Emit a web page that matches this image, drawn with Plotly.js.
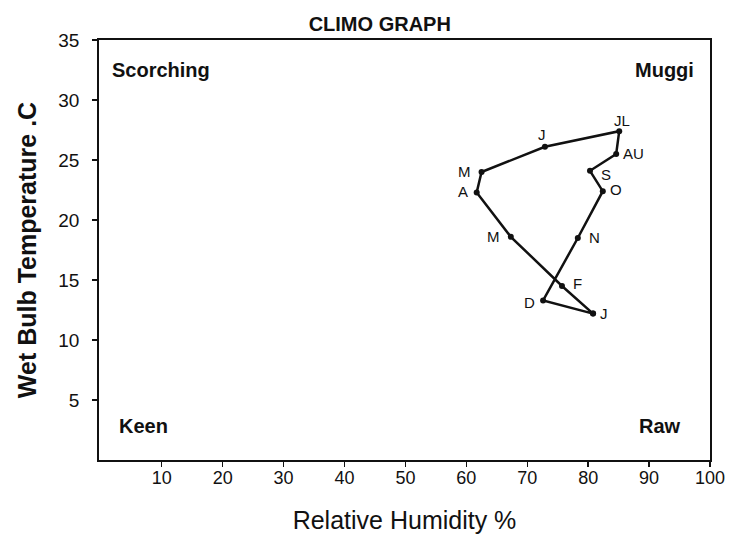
<!DOCTYPE html>
<html>
<head>
<meta charset="utf-8">
<script src="https://cdn.plot.ly/plotly-3.0.1.min.js"></script>
<style>
  html, body { margin: 0; padding: 0; background: #ffffff; }
  #chart { width: 736px; height: 544px; }
</style>
</head>
<body>
<div id="chart"></div>
<script>
// Month labels along the climograph loop (January first)
var months = ['J', 'F', 'M', 'A', 'M', 'J', 'JL', 'AU', 'S', 'O', 'N', 'D'];
// Relative humidity (%) per month
var humidity = [80.8, 75.7, 67.3, 61.7, 62.5, 72.9, 85.1, 84.6, 80.3, 82.4, 78.3, 72.6];
// Wet bulb temperature (deg C) per month
var wetBulb = [12.2, 14.5, 18.6, 22.3, 24.0, 26.1, 27.4, 25.5, 24.1, 22.4, 18.5, 13.3];
// Axis ticks
var xTicks = [10, 20, 30, 40, 50, 60, 70, 80, 90, 100];
var yTicks = [5, 10, 15, 20, 25, 30, 35];
// Corner zone names
var zoneNames = ['Scorching', 'Muggi', 'Keen', 'Raw'];

// Label pixel offsets (styling only)
var labelShift = [[11, 0], [16, 3], [-17, 0], [-14, 1], [-17, 1], [-3, 12],
                  [3, 11], [17, 1], [16, -4], [13, 2], [17, 1], [-14, -2]];

var FONT = 'Liberation Sans, Arial, sans-serif';

var loopX = humidity.concat([humidity[0]]);
var loopY = wetBulb.concat([wetBulb[0]]);

var trace = {
  x: loopX,
  y: loopY,
  type: 'scatter',
  mode: 'lines+markers',
  line: { color: '#111111', width: 2.5 },
  marker: { color: '#111111', size: 6 },
  hoverinfo: 'skip',
  showlegend: false
};

var annotations = months.map(function (m, i) {
  return {
    x: humidity[i], y: wetBulb[i], xref: 'x', yref: 'y',
    text: m, showarrow: false,
    xshift: labelShift[i][0], yshift: labelShift[i][1],
    font: { family: FONT, size: 15, color: '#111111' }
  };
});

var zonePos = [
  { x: 0.018, y: 0.929, xanchor: 'left' },
  { x: 0.977, y: 0.929, xanchor: 'right' },
  { x: 0.030, y: 0.082, xanchor: 'left' },
  { x: 0.955, y: 0.082, xanchor: 'right' }
];
zoneNames.forEach(function (z, i) {
  annotations.push({
    xref: 'paper', yref: 'paper', x: zonePos[i].x, y: zonePos[i].y,
    xanchor: zonePos[i].xanchor, yanchor: 'middle',
    text: '<b>' + z + '</b>', showarrow: false,
    font: { family: FONT, size: 20, color: '#111111' }
  });
});

var layout = {
  width: 736, height: 544,
  paper_bgcolor: '#ffffff', plot_bgcolor: '#ffffff',
  margin: { l: 99, r: 26, t: 40, b: 84 },
  title: {
    text: '<b>CLIMO GRAPH</b>',
    x: 0.516, xref: 'container', xanchor: 'center',
    y: 0.956, yref: 'container', yanchor: 'middle',
    font: { family: FONT, size: 20, color: '#111111' }
  },
  xaxis: {
    range: [-0.3, 100],
    tickvals: xTicks, ticktext: xTicks.map(String),
    ticks: 'outside', ticklen: 5, tickwidth: 1.5, tickcolor: '#111111',
    ticklabelstandoff: -4,
    showgrid: false, zeroline: false,
    showline: true, linecolor: '#111111', linewidth: 1.8, mirror: true,
    tickfont: { family: FONT, size: 18, color: '#111111' },
    title: { text: 'Relative Humidity %', standoff: 24,
             font: { family: FONT, size: 25, color: '#111111' } }
  },
  yaxis: {
    range: [0, 35],
    tickvals: yTicks, ticktext: yTicks.map(String),
    ticks: 'outside', ticklen: 5, tickwidth: 1.5, tickcolor: '#111111',
    ticklabelstandoff: 9,
    showgrid: false, zeroline: false,
    showline: true, linecolor: '#111111', linewidth: 1.8, mirror: true,
    tickfont: { family: FONT, size: 19, color: '#111111' },
    title: { text: '<b>Wet Bulb Temperature .C</b>', standoff: 14,
             font: { family: FONT, size: 25, color: '#111111' } }
  },
  annotations: annotations
};

Plotly.newPlot('chart', [trace], layout, { displayModeBar: false, staticPlot: true });
</script>
</body>
</html>
